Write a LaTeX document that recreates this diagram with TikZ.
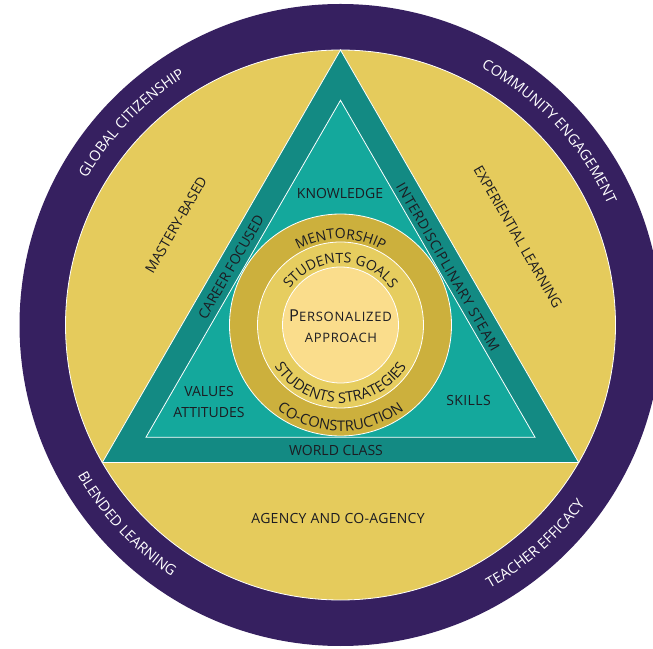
\documentclass[tikz,border=0pt]{standalone}
\usepackage{fontspec}
\setmainfont{Open Sans}
\usetikzlibrary{decorations.text}
\definecolor{purp}{RGB}{54,32,96}
\definecolor{ylw}{RGB}{229,203,92}
\definecolor{tealdk}{RGB}{19,138,131}
\definecolor{tealin}{RGB}{20,168,156}
\definecolor{gold}{RGB}{204,176,61}
\definecolor{goldlt}{RGB}{230,205,95}
\definecolor{core}{RGB}{250,221,140}
\definecolor{ink}{RGB}{28,28,34}
\newcommand\bandfont{\fontsize{14.5}{16}\selectfont}
\newcommand\ringfont{\fontsize{14}{16}\selectfont}
\newcommand\ringfontb{\fontsize{14.6}{16}\selectfont}
\begin{document}
\begin{tikzpicture}[x=1pt,y=1pt,
  lbl/.style={font=\fontsize{14}{16}\selectfont, text=ink, inner sep=0pt},
  sep/.style={draw=white, line width=0.8pt},
  bandtext/.style={decorate, decoration={text along path, text align=center, text color=white, text={|\bandfont|#1}}},
  ringtext/.style={decorate, decoration={text along path, text align=center, text color=ink, text={|\ringfont|#1}}},
  ringtextb/.style={decorate, decoration={text along path, text align=center, text color=ink, text={|\ringfontb|#1}}},
]
\useasboundingbox (0,0) rectangle (653,648);
\clip (0,0) rectangle (653,648);
\coordinate (C) at (340.5,323);
% outer rings
\path[fill=purp] (C) circle[radius=321];
\path[fill=ylw, sep] (C) circle[radius=275];
% triangles
\coordinate (A1) at ([shift={(90:275)}]C);
\coordinate (B1) at ([shift={(210:275)}]C);
\coordinate (D1) at ([shift={(330:275)}]C);
\path[fill=tealdk, sep] (A1) -- (B1) -- (D1) -- cycle;
\coordinate (A2) at ([shift={(90:224.7)}]C);
\coordinate (B2) at ([shift={(210:224.7)}]C);
\coordinate (D2) at ([shift={(330:224.7)}]C);
\path[fill=tealin, sep] (A2) -- (B2) -- (D2) -- cycle;
% circles
\path[fill=gold, sep] (C) circle[radius=111];
\path[fill=goldlt, sep] (C) circle[radius=83];
\path[fill=core, sep] (C) circle[radius=58];
% outer band text
\path[bandtext={GLOBAL CITIZENSHIP}] ([shift={(170:293)}]C) arc[start angle=170, end angle=102, radius=293];
\path[bandtext={COMMUNITY ENGAGEMENT}] ([shift={(82:293)}]C) arc[start angle=82, end angle=3.6, radius=293];
\path[bandtext={BLENDED LEARNING}] ([shift={(188:303)}]C) arc[start angle=188, end angle=258, radius=303];
\path[bandtext={TEACHER EFFICACY}] ([shift={(-83.3:303)}]C) arc[start angle=-83.3, end angle=-13.3, radius=303];
% ring text
\path[ringtext={MENTORSHIP}] ([shift={(160:86)}]C) arc[start angle=160, end angle=20, radius=86];
\path[ringtext={STUDENTS GOALS}] ([shift={(178:62)}]C) arc[start angle=178, end angle=2, radius=62];
\path[ringtextb={STUDENTS STRATEGIES}] ([shift={(182:78)}]C) arc[start angle=182, end angle=358, radius=78];
\path[ringtextb={CO-CONSTRUCTION}] ([shift={(200:106)}]C) arc[start angle=200, end angle=340, radius=106];
% center
\node[lbl, anchor=base] (pers) at (340.5,326) {\addfontfeature{LetterSpace=6}{\fontsize{16.4}{18}\selectfont P}{\fontsize{13}{14}\selectfont ERSONALIZED}};
\node[lbl, anchor=base] (appr) at (341,305) {\addfontfeature{LetterSpace=5}\fontsize{13}{14}\selectfont APPROACH};
% labels
\node[lbl] (know) at (340,455) {KNOWLEDGE};
\node[lbl] (vals) at (209,256) {VALUES};
\node[lbl] (atti) at (209,235) {ATTITUDES};
\node[lbl] (skil) at (468.5,247) {\addfontfeature{LetterSpace=3}SKILLS};
\node[lbl] (world) at (336,198) {WORLD CLASS};
\node[lbl] (agency) at (338,129.5) {\addfontfeature{LetterSpace=2}AGENCY AND CO-AGENCY};
\node[lbl, rotate=60] (mast) at (176,423) {MASTERY-BASED};
\node[lbl, rotate=60] (career) at (231,381) {CAREER FOCUSED};
\node[lbl, rotate=-60] (exper) at (518,411) {EXPERIENTIAL LEARNING};
\node[lbl, rotate=-60] (inter) at (448,381) {\addfontfeature{LetterSpace=5}INTERDISCIPLINARY STEAM};
\end{tikzpicture}
\end{document}
